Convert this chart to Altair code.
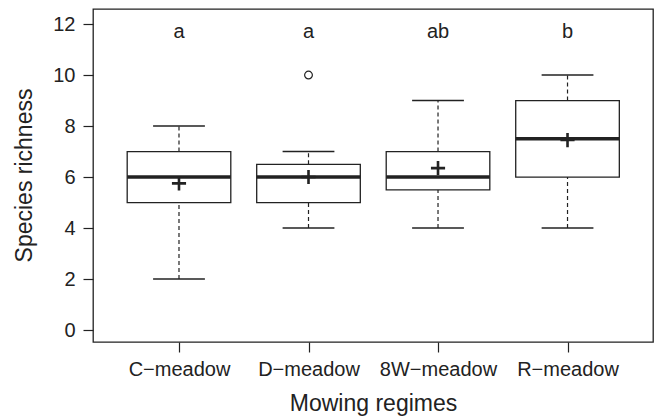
import json
import altair as alt
import pandas as pd

# ---- data ----
groups = ["C−meadow", "D−meadow", "8W−meadow", "R−meadow"]
pos = [1, 2, 3, 4]
whisker_lo = [2, 4, 4, 4]
q1 = [5, 5, 5.5, 6]
median = [6, 6, 6, 7.5]
q3 = [7, 6.5, 7, 9]
whisker_hi = [8, 7, 9, 10]
means = [5.75, 6.0, 6.35, 7.45]
letters = ["a", "a", "ab", "b"]
outlier_group = ["D−meadow"]
outlier_pos = [2]
outlier_val = [10]

df = pd.DataFrame({
    "group": groups, "pos": pos, "lo": whisker_lo, "q1": q1, "med": median,
    "q3": q3, "hi": whisker_hi, "mean": means, "letter": letters,
})
out_df = pd.DataFrame({"group": outlier_group, "pos": outlier_pos, "val": outlier_val})

INK = "#222222"
FONT = "Liberation Sans"

label_expr = json.dumps(groups, ensure_ascii=False) + "[datum.value - 1]"

x_scale = alt.Scale(domain=[0.336, 4.66], nice=False, zero=False)
y_scale = alt.Scale(domain=[-0.47, 12.59], nice=False, zero=False)

x_axis = alt.Axis(
    values=pos, labelExpr=label_expr, title="Mowing regimes",
    grid=False, domain=False, tickSize=10, tickWidth=1.2, tickColor=INK,
    labelFontSize=20, labelFont=FONT, labelColor=INK, labelPadding=7,
    titleFontSize=23, titleFont=FONT, titleFontWeight="normal", titleColor=INK,
    titleX=280, titleY=68, titleBaseline="alphabetic", titleAnchor="middle",
)
y_axis = alt.Axis(
    values=[0, 2, 4, 6, 8, 10, 12], title="Species richness",
    grid=False, domain=False, tickSize=10, tickWidth=1.2, tickColor=INK,
    labelFontSize=20, labelFont=FONT, labelColor=INK, labelPadding=8,
    titleFontSize=23, titleFont=FONT, titleFontWeight="normal", titleColor=INK,
    titleAngle=-90, titleX=-69, titleY=166, titleBaseline="middle", titleAlign="center",
)


def X(field):
    return alt.X(field, type="quantitative", scale=x_scale, axis=x_axis)


def Y(field):
    return alt.Y(field, type="quantitative", scale=y_scale, axis=y_axis)


base = alt.Chart(df).transform_calculate(
    x0="datum.pos - 0.4", x1="datum.pos + 0.4",
    c0="datum.pos - 0.2", c1="datum.pos + 0.2",
)

whisk_up = base.mark_rule(color=INK, strokeWidth=1.2, strokeDash=[4, 3]).encode(
    x=X("pos"), y=Y("q3"), y2="hi:Q")
whisk_dn = base.mark_rule(color=INK, strokeWidth=1.2, strokeDash=[4, 3]).encode(
    x=X("pos"), y=Y("lo"), y2="q1:Q")
cap_hi = base.mark_rule(color=INK, strokeWidth=1.4).encode(
    x=X("c0"), x2="c1:Q", y=Y("hi"))
cap_lo = base.mark_rule(color=INK, strokeWidth=1.4).encode(
    x=X("c0"), x2="c1:Q", y=Y("lo"))
box = base.mark_rect(fill="white", stroke=INK, strokeWidth=1.3).encode(
    x=X("x0"), x2="x1:Q", y=Y("q1"), y2="q3:Q")
med = base.mark_rule(color=INK, strokeWidth=3.5).encode(
    x=X("x0"), x2="x1:Q", y=Y("med"))
mean_pt = base.mark_point(
    shape="M-1,0L1,0M0,-1L0,1", size=200, filled=False,
    stroke=INK, strokeWidth=2.6, opacity=1,
).encode(x=X("pos"), y=Y("mean"))
letter_txt = base.mark_text(
    font=FONT, fontSize=20, color=INK, baseline="alphabetic", align="center"
).encode(x=X("pos"), y=alt.Y(datum=11.45, type="quantitative", scale=y_scale, axis=y_axis),
         text="letter:N")
outl = alt.Chart(out_df).mark_point(
    shape="circle", size=60, filled=False, stroke=INK, strokeWidth=1.2, opacity=1
).encode(x=X("pos"), y=Y("val"))

chart = alt.layer(
    whisk_up, whisk_dn, cap_hi, cap_lo, box, med, mean_pt, outl, letter_txt
).properties(
    width=560, height=333,
    autosize="none",
    padding={"left": 93, "top": 9, "right": 6, "bottom": 78},
    background="white",
).configure_view(stroke=INK, strokeWidth=1.3)

chart.save("out.html", embed_options={"renderer": "svg", "actions": False})
